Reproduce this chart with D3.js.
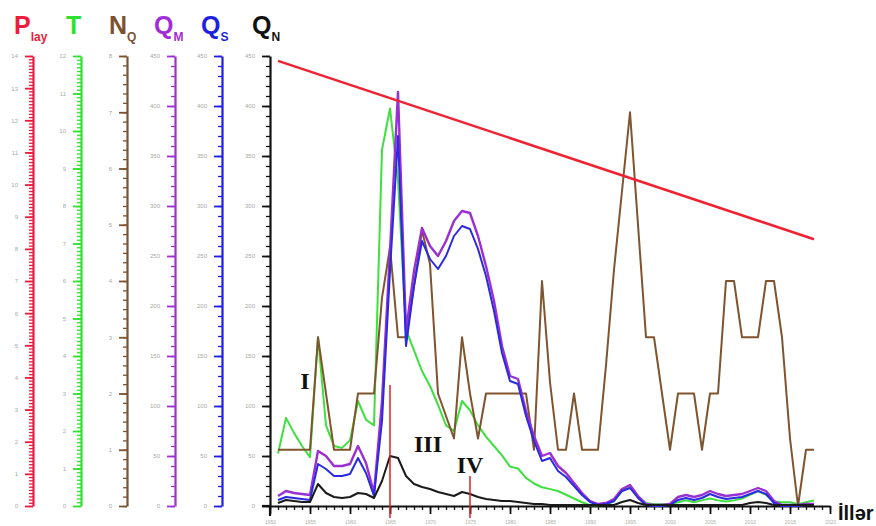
<!DOCTYPE html>
<html>
<head>
<meta charset="utf-8">
<script src="https://cdn.jsdelivr.net/npm/d3@7"></script>
<style>
  body { margin: 0; background: #fff; }
  svg { display: block; }
</style>
</head>
<body>
<div id="chart"></div>
<script>
// years of the record
const years = d3.range(1951, 2019);

// layer pressure (straight trend)
const pLayYears = [1951, 2018];
const pLay = [13.85, 8.3];

// T
const tVals = [1.4, 2.35, 1.95, 1.6, 1.3, 4.5, 2.15, 1.6, 1.55, 1.75,
  2.8, 2.3, 2.15, 9.5, 10.6, 8.7, 4.7, 4.15, 3.6, 3.2,
  2.7, 2.15, 2.0, 2.8, 2.55, 2.15, 1.85, 1.6, 1.35, 1.05,
  1.0, 0.75, 0.6, 0.5, 0.45, 0.4, 0.3, 0.2, 0.1, 0.02,
  0.02, 0.05, 0.12, 0.4, 0.5, 0.25, 0.08, 0.05, 0.05, 0.05,
  0.1, 0.15, 0.1, 0.15, 0.2, 0.15, 0.12, 0.15, 0.2, 0.3,
  0.4, 0.3, 0.12, 0.1, 0.1, 0.05, 0.1, 0.15];

// N_Q
const nqVals = [1, 1, 1, 1, 1, 3, 2, 1, 1, 1,
  2, 2, 2, 3.7, 4.6, 3, 3, 3.9, 4.9, 4.3,
  2, 1.6, 1.2, 3, 2, 1.2, 2, 2, 2, 2,
  2, 2, 1, 4, 2.2, 1, 1, 2, 1, 1,
  1, 2.5, 4.2, 5.6, 7, 5, 3, 3, 2, 1,
  2, 2, 2, 1, 2, 2, 4, 4, 3, 3,
  3, 4, 4, 3, 1.2, 0, 1, 1];

// Q_M
const qmVals = [10, 15, 13, 12, 11, 55, 50, 40, 40, 42,
  60, 43, 13, 105, 255, 414, 175, 235, 278, 260,
  250, 265, 285, 295, 293, 270, 240, 205, 160, 130,
  127, 95, 70, 50, 53, 40, 33, 23, 13, 5,
  2, 3, 7, 17, 21, 10, 2, 1, 1, 2,
  9, 11, 9, 11, 15, 12, 10, 11, 12, 15,
  18, 15, 5, 1, 1, 1, 2, 2];

// Q_S
const qsVals = [6, 9, 8, 7, 6, 42, 37, 30, 30, 32,
  48, 33, 10, 85, 235, 370, 160, 220, 265, 247,
  237, 250, 270, 280, 277, 257, 230, 195, 153, 125,
  122, 90, 65, 45, 48, 35, 29, 20, 11, 4,
  1, 2, 5, 15, 18, 8, 1, 0, 0, 1,
  6, 8, 6, 8, 12, 9, 7, 8, 9, 12,
  15, 12, 3, 0, 0, 0, 1, 1];

// Q_N
const qnVals = [3, 6, 5, 4, 4, 22, 13, 9, 8, 9,
  13, 12, 8, 25, 50, 48, 30, 22, 19, 17,
  14, 12, 10, 14, 12, 9, 7, 6, 5, 5,
  4, 3, 2, 2, 1, 1, 1, 1, 1, 1,
  1, 1, 1, 4, 6, 3, 1, 1, 1, 1,
  1, 1, 1, 1, 1, 1, 1, 1, 1, 3,
  4, 3, 1, 1, 1, 1, 1, 1];

// stage marks
const stageYears = [1965, 1975];
const stageLabels = ["I", "III", "IV"];

const W = 876, H = 526;
const yTop = 56, yBottom = 506;

let svg = d3.select("#chart").append("svg")
  .attr("width", W).attr("height", H);

let x = d3.scaleLinear().domain([1950, 2020]).range([270, 830]);

let yP = d3.scaleLinear().domain([0, 14]).range([yBottom, yTop]);
let yT = d3.scaleLinear().domain([0, 12]).range([yBottom, yTop]);
let yN = d3.scaleLinear().domain([0, 8]).range([yBottom, yTop]);
let yQ = d3.scaleLinear().domain([0, 450]).range([yBottom, yTop]);

const axes = [
  { scale: yP, x: 33, color: "#ee1c3c", major: d3.range(0, 15, 1), minor: d3.range(0, 14.01, 0.1), name: "P", sub: "lay", tx: 14 },
  { scale: yT, x: 81, color: "#2fe02f", major: d3.range(0, 13, 1), minor: d3.range(0, 12.01, 0.1), name: "T", sub: "", tx: 66 },
  { scale: yN, x: 127, color: "#7d5230", major: d3.range(0, 9, 1), minor: d3.range(0, 8.01, 1 / 6), name: "N", sub: "Q", tx: 109 },
  { scale: yQ, x: 175, color: "#a22cd6", major: d3.range(0, 451, 50), minor: d3.range(0, 451, 10), name: "Q", sub: "M", tx: 154 },
  { scale: yQ, x: 222, color: "#1f1fe0", major: d3.range(0, 451, 50), minor: d3.range(0, 451, 10), name: "Q", sub: "S", tx: 201 },
  { scale: yQ, x: 270, color: "#111", major: d3.range(0, 451, 50), minor: d3.range(0, 451, 10), name: "Q", sub: "N", tx: 252 }
];

axes.forEach(function (a) {
  let gMinor = svg.append("g")
    .attr("transform", "translate(" + a.x + ",0)")
    .call(d3.axisLeft(a.scale).tickValues(a.minor).tickSize(4).tickFormat(""));
  gMinor.select(".domain").remove();
  gMinor.selectAll("line").attr("stroke", a.color).attr("stroke-width", 1.3);

  let gMajor = svg.append("g")
    .attr("transform", "translate(" + a.x + ",0)")
    .call(d3.axisLeft(a.scale).tickValues(a.major).tickSize(8).tickSizeOuter(0).tickPadding(7));
  gMajor.select(".domain").attr("stroke", a.color).attr("stroke-width", 2.2);
  gMajor.selectAll("line").attr("stroke", a.color).attr("stroke-width", 1.8);
  gMajor.selectAll("text").attr("fill", "#a8a8a8").style("font-size", "6px")
    .style("font-family", "Liberation Sans, Arial, sans-serif");

  let title = svg.append("text")
    .attr("x", a.tx)
    .attr("y", 34)
    .attr("fill", a.color)
    .style("font-family", "Liberation Sans, Arial, sans-serif")
    .style("font-weight", "bold")
    .style("font-size", "25px")
    .text(a.name);
  if (a.sub) {
    title.append("tspan")
      .attr("dy", 7)
      .style("font-size", "12px")
      .text(a.sub);
  }
});

// main y axis runs a little past the x axis
svg.append("line")
  .attr("x1", 270).attr("x2", 270)
  .attr("y1", yBottom).attr("y2", yBottom + 10)
  .attr("stroke", "#111").attr("stroke-width", 2.2);

// x axis
let gxMinor = svg.append("g")
  .attr("transform", "translate(0," + yBottom + ")")
  .call(d3.axisBottom(x).tickValues(d3.range(1950, 2021, 1)).tickSize(4).tickFormat(""));
gxMinor.select(".domain").remove();
gxMinor.selectAll("line").attr("stroke", "#111").attr("stroke-width", 1.3);

let gx = svg.append("g")
  .attr("transform", "translate(0," + yBottom + ")")
  .call(d3.axisBottom(x).tickValues(d3.range(1950, 2021, 5)).tickSize(8).tickSizeOuter(0).tickPadding(6).tickFormat(d3.format("d")));
gx.select(".domain").attr("stroke", "#111").attr("stroke-width", 2.2);
gx.selectAll("line").attr("stroke", "#111").attr("stroke-width", 1.8);
gx.selectAll("text").attr("fill", "#b0b0b0").style("font-size", "5px")
  .style("font-family", "Liberation Sans, Arial, sans-serif");

svg.append("line")
  .attr("x1", 262).attr("x2", 270)
  .attr("y1", yBottom).attr("y2", yBottom)
  .attr("stroke", "#111").attr("stroke-width", 2.2);

svg.append("text")
  .attr("x", 838).attr("y", 520)
  .style("font-family", "Liberation Sans, Arial, sans-serif")
  .style("font-weight", "bold")
  .style("font-size", "20px")
  .attr("fill", "#111")
  .text("İllər");

// series
function drawLine(vals, yScale, color, w) {
  let line = d3.line()
    .x(function (d, i) { return x(years[i]); })
    .y(function (d) { return yScale(d); });
  svg.append("path")
    .datum(vals)
    .attr("d", line)
    .attr("fill", "none")
    .attr("stroke", color)
    .attr("stroke-width", w)
    .attr("stroke-linejoin", "round");
}

drawLine(tVals, yT, "#3ee03e", 2);
drawLine(nqVals, yN, "#80542e", 2);
drawLine(qmVals, yQ, "#9a2fd2", 2.4);
drawLine(qsVals, yQ, "#2a2ae0", 2);
drawLine(qnVals, yQ, "#1a1a1a", 2);

// layer pressure trend
svg.append("path")
  .datum(pLay)
  .attr("d", d3.line()
    .x(function (d, i) { return x(pLayYears[i]); })
    .y(function (d) { return yP(d); }))
  .attr("fill", "none")
  .attr("stroke", "#ee2233")
  .attr("stroke-width", 2.5);

// stage boundaries
svg.append("line")
  .attr("x1", x(stageYears[0])).attr("x2", x(stageYears[0]))
  .attr("y1", 385).attr("y2", 518)
  .attr("stroke", "#dd2222").attr("stroke-width", 1.5);
svg.append("line")
  .attr("x1", x(stageYears[1])).attr("x2", x(stageYears[1]))
  .attr("y1", 476).attr("y2", 518)
  .attr("stroke", "#dd2222").attr("stroke-width", 1.5);

const labelPos = [[305, 389], [428, 452], [470, 473]];
stageLabels.forEach(function (t, i) {
  svg.append("text")
    .attr("x", labelPos[i][0]).attr("y", labelPos[i][1])
    .attr("text-anchor", "middle")
    .style("font-family", "Liberation Serif, Times New Roman, serif")
    .style("font-weight", "bold")
    .style("font-size", "24px")
    .attr("fill", "#111")
    .text(t);
});
</script>
</body>
</html>
